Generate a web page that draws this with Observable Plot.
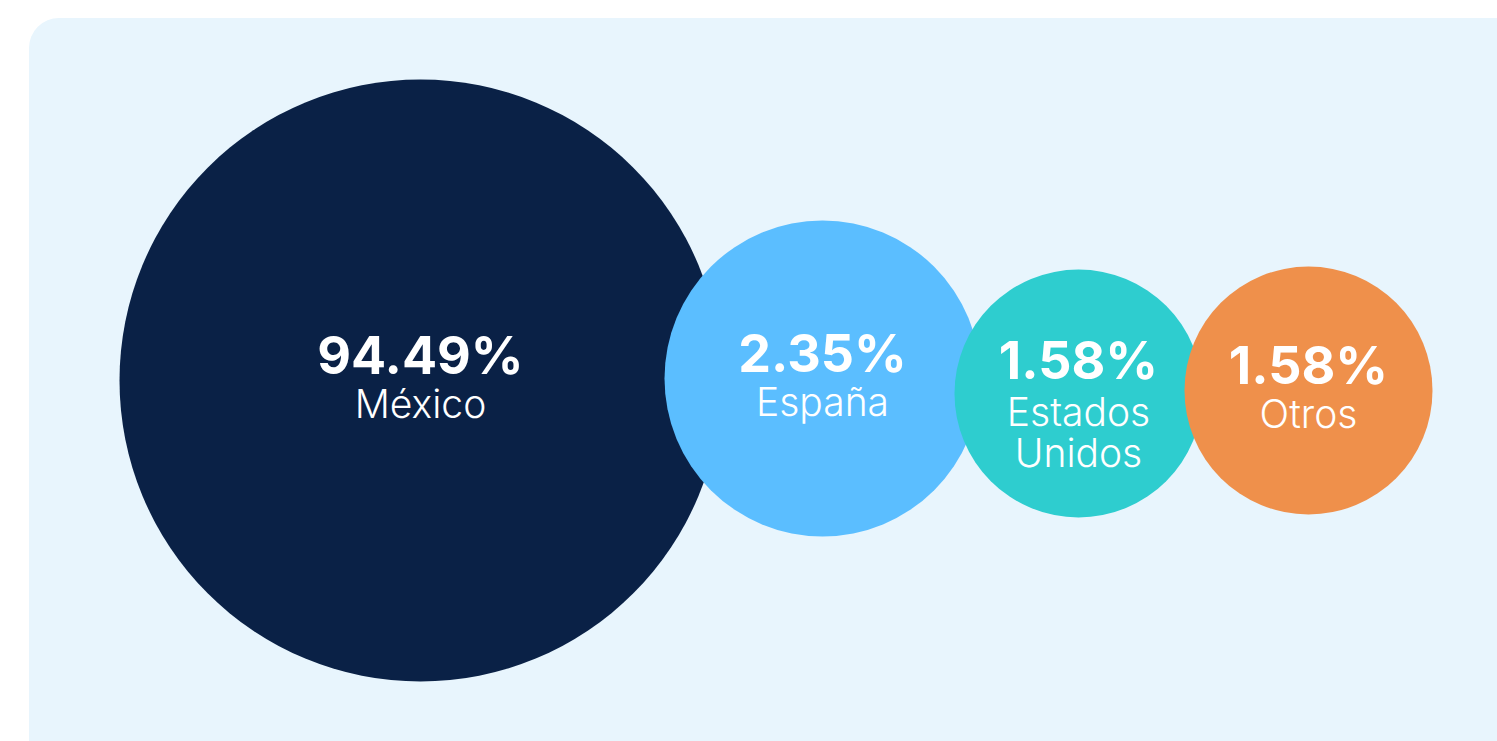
<!DOCTYPE html>
<html>
<head>
<meta charset="utf-8">
<script src="https://cdn.jsdelivr.net/npm/d3@7"></script>
<script src="https://cdn.jsdelivr.net/npm/@observablehq/plot@0.6"></script>
<style>
  html, body { margin: 0; padding: 0; background: #ffffff; }
  #wrap { position: relative; width: 1497px; height: 741px; overflow: hidden; background: #ffffff; }
  #panel { position: absolute; left: 29px; top: 18px; width: 1520px; height: 760px; border-radius: 30px; background: #e8f5fd; }
  #chart { position: absolute; left: 0; top: 0; }
</style>
</head>
<body>
<div id="wrap"><div id="panel"></div><div id="chart"></div></div>
<script>
// ---- data ----
const countries = ["México", "España", "Estados Unidos", "Otros"];
const shares = [94.49, 2.35, 1.58, 1.58];
const colors = ["#0a2146", "#5bbeff", "#2ecdcf", "#ef904b"];

// ---- layout (bubble placement and sizing) ----
const centerX = [420, 822, 1078, 1308];
const centerY = [380, 378, 393, 390];
const radiusDomain = [1.58, 2.35, 94.49];
const radiusRange = [124, 158, 301];

const data = countries.map((country, i) => ({ country, share: shares[i], cx: centerX[i], cy: centerY[i] }));
const oneLine = data.filter(d => !d.country.includes(" "));
const twoLine = data.filter(d => d.country.includes(" "));
const fmt = d => d.share.toFixed(2) + "%";

const font = "Inter, 'Noto Sans', sans-serif";

const chart = Plot.plot({
  width: 1497,
  height: 741,
  margin: 0,
  style: { background: "transparent", fontFamily: font },
  x: { type: "identity", axis: null },
  y: { type: "identity", axis: null },
  r: { type: "linear", domain: radiusDomain, range: radiusRange },
  color: { domain: countries, range: colors },
  marks: [
    Plot.dot(data, { x: "cx", y: "cy", r: "share", fill: "country", stroke: null }),
    Plot.text(oneLine, { x: "cx", y: "cy", text: fmt, dy: -7, lineAnchor: "bottom",
      fill: "white", fontSize: 52, fontWeight: 700, fontFamily: font }),
    Plot.text(twoLine, { x: "cx", y: "cy", text: fmt, dy: -15, lineAnchor: "bottom",
      fill: "white", fontSize: 52, fontWeight: 700, fontFamily: font }),
    Plot.text(oneLine, { x: "cx", y: "cy", text: "country", dy: 37, lineAnchor: "bottom",
      fill: "white", fontSize: 39, fontWeight: 300, fontFamily: font }),
    Plot.text(twoLine, { x: "cx", y: "cy", text: "country", dy: 73, lineAnchor: "bottom",
      lineWidth: 5, lineHeight: 1.03,
      fill: "white", fontSize: 39, fontWeight: 300, fontFamily: font })
  ]
});
document.getElementById("chart").appendChild(chart);
</script>
</body>
</html>
